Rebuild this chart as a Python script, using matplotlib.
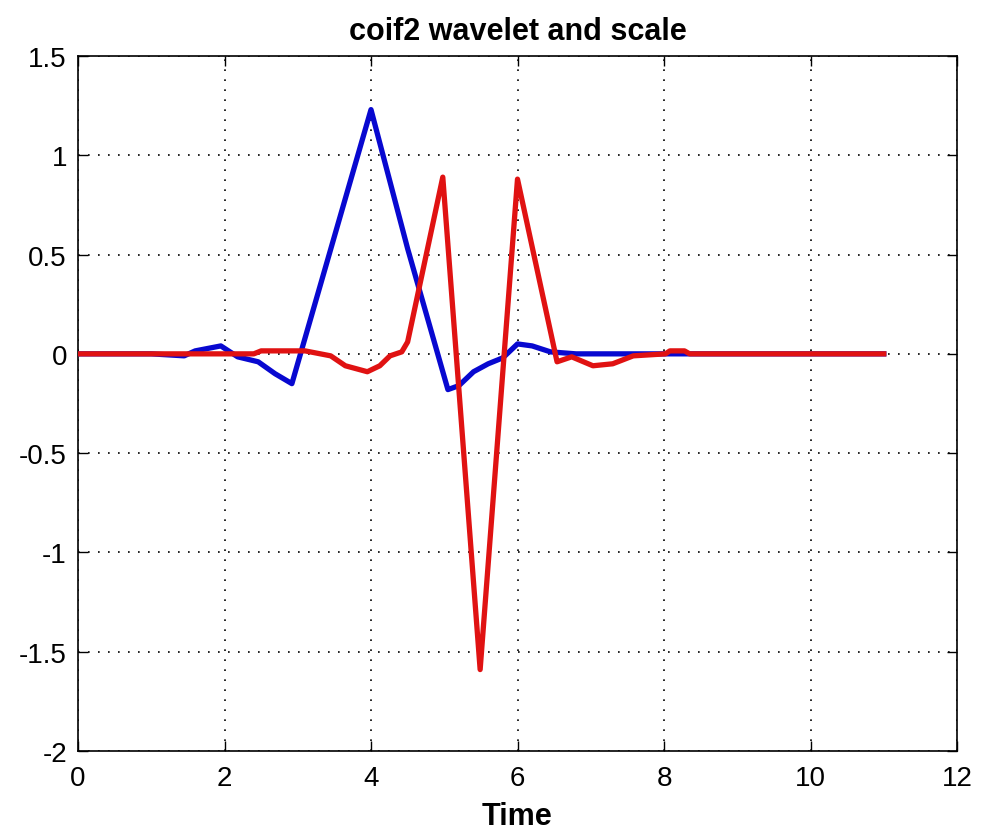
import matplotlib
matplotlib.use("Agg")
import matplotlib.pyplot as plt

# Scaling function (blue)
phi_x = [0.0, 1.0, 1.45, 1.6, 1.95, 2.18, 2.46, 2.69, 2.92, 4.0, 4.5, 5.05, 5.2, 5.4, 5.6, 5.8, 6.0, 6.2, 6.45, 6.8, 7.5, 11.0]
phi_y = [0.0, 0.0, -0.01, 0.015, 0.04, -0.015, -0.04, -0.10, -0.15, 1.23, 0.53, -0.18, -0.16, -0.09, -0.05, -0.02, 0.05, 0.04, 0.01, 0.0, 0.0, 0.0]

# Wavelet function (red)
psi_x = [0.0, 2.4, 2.5, 3.1, 3.45, 3.65, 3.95, 4.12, 4.26, 4.42, 4.5, 4.98, 5.49, 6.0, 6.54, 6.74, 7.03, 7.3, 7.58, 8.02, 8.08, 8.28, 8.35, 11.0]
psi_y = [0.0, 0.0, 0.015, 0.015, -0.01, -0.06, -0.09, -0.06, -0.01, 0.01, 0.06, 0.89, -1.59, 0.88, -0.04, -0.015, -0.06, -0.05, -0.01, 0.0, 0.015, 0.015, 0.0, 0.0]

x_ticks = [0, 2, 4, 6, 8, 10, 12]
y_ticks = [-2, -1.5, -1, -0.5, 0, 0.5, 1, 1.5]
y_labels = ["-2", "-1.5", "-1", "-0.5", "0", "0.5", "1", "1.5"]

plt.rcParams['font.family'] = ['Liberation Sans', 'DejaVu Sans']

fig = plt.figure(figsize=(9.81, 8.37), dpi=100)
ax = fig.add_axes([78/981, 1 - 752/837, (957-78)/981, (752-57)/837])

ax.plot(phi_x, phi_y, color='#0808d0', lw=3.8, solid_joinstyle='round', zorder=3)
ax.plot(psi_x, psi_y, color='#e01212', lw=3.8, solid_joinstyle='round', zorder=4)

ax.set_xlim(0, 12)
ax.set_ylim(-2, 1.5)
ax.set_xticks(x_ticks)
ax.set_xticklabels([str(t) for t in x_ticks])
ax.set_yticks(y_ticks)
ax.set_yticklabels(y_labels)

ax.grid(True, color='black', linestyle=(0, (1, 5)), linewidth=1.2)
ax.tick_params(direction='in', length=7, width=1, top=True, right=True,
               labelsize=20, pad=8)
ax.tick_params(axis='x', pad=10)
for s in ax.spines.values():
    s.set_linewidth(1.2)

ax.set_title("coif2 wavelet and scale", fontsize=22, fontweight='bold', pad=12)
ax.set_xlabel("Time", fontsize=22, fontweight='bold', labelpad=7)

fig.savefig("out.png", dpi=100)
